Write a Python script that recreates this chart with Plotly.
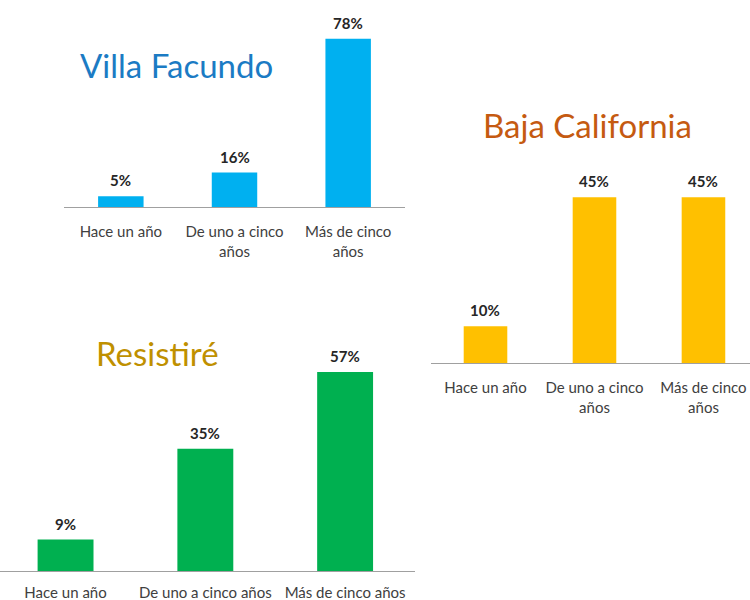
import plotly.graph_objects as go

# ---- data ----
vf_categories = ["Hace un año", "De uno a cinco<br>años", "Más de cinco<br>años"]
vf_values = [5, 16, 78]
bc_categories = ["Hace un año", "De uno a cinco<br>años", "Más de cinco<br>años"]
bc_values = [10, 45, 45]
rs_categories = ["Hace un año", "De uno a cinco años", "Más de cinco años"]
rs_values = [9, 35, 57]

titles = ["Villa Facundo", "Baja California", "Resistiré"]
bar_colors = ["#00B0F0", "#FFC000", "#00B050"]
title_colors = ["#1B7BC4", "#C55A11", "#BF9000"]

W, H = 750, 600
fig = go.Figure()

panels = [
    dict(cats=vf_categories, vals=vf_values, ax="", xd=[64 / W, 405 / W], yd=[(H - 207) / H, (H - 13) / H],
         xr=[-0.5, 2.5], yr=[0, 90], title_xy=(176, 65), standoff=11),
    dict(cats=bc_categories, vals=bc_values, ax="2", xd=[431 / W, 1.0], yd=[(H - 363) / H, (H - 142) / H],
         xr=[-0.5, 2.427], yr=[0, 60], title_xy=(587, 125), standoff=11),
    dict(cats=rs_categories, vals=rs_values, ax="3", xd=[0.0, 415 / W], yd=[(H - 571) / H, (H - 344) / H],
         xr=[-0.469, 2.5], yr=[0, 65], title_xy=(157, 353), standoff=8),
]

annotations = []
for i, p in enumerate(panels):
    xa = "x" + p["ax"]
    ya = "y" + p["ax"]
    fig.add_trace(go.Bar(
        x=list(range(3)), y=p["vals"], width=0.4,
        marker=dict(color=bar_colors[i], line=dict(width=0)),
        xaxis=xa, yaxis=ya, showlegend=False, hoverinfo="skip",
    ))
    for j, v in enumerate(p["vals"]):
        annotations.append(dict(
            x=j, y=v, xref=xa, yref=ya, text=f"<b>{v}%</b>", showarrow=False,
            xanchor="center", yanchor="bottom", yshift=5,
            font=dict(family="Lato", size=15, color="#262626"),
        ))
    tx, ty = p["title_xy"]
    annotations.append(dict(
        x=tx / W, y=(H - ty) / H, xref="paper", yref="paper", text=titles[i],
        showarrow=False, xanchor="center", yanchor="middle",
        font=dict(family="Lato", size=33, color=title_colors[i]),
    ))
    xkey = "xaxis" + p["ax"]
    ykey = "yaxis" + p["ax"]
    fig.layout[xkey] = dict(
        domain=p["xd"], range=p["xr"], anchor=ya,
        tickmode="array", tickvals=list(range(3)), ticktext=p["cats"],
        showline=True, linecolor="#A0A0A0", linewidth=1, ticks="",
        showgrid=False, zeroline=False, fixedrange=True,
        tickfont=dict(family="Lato", size=15, color="#404040"),
        ticklabelstandoff=p["standoff"],
    )
    fig.layout[ykey] = dict(
        domain=p["yd"], range=p["yr"], anchor=xa, visible=False,
        showgrid=False, zeroline=False, fixedrange=True,
    )

fig.update_layout(
    width=W, height=H, margin=dict(l=0, r=0, t=0, b=0),
    paper_bgcolor="white", plot_bgcolor="white",
    annotations=annotations, bargap=0.6,
)

fig.write_html(
    "out.html",
    config={"displayModeBar": False},
    post_script="document.body.style.margin='0';document.body.style.overflow='hidden';",
)
